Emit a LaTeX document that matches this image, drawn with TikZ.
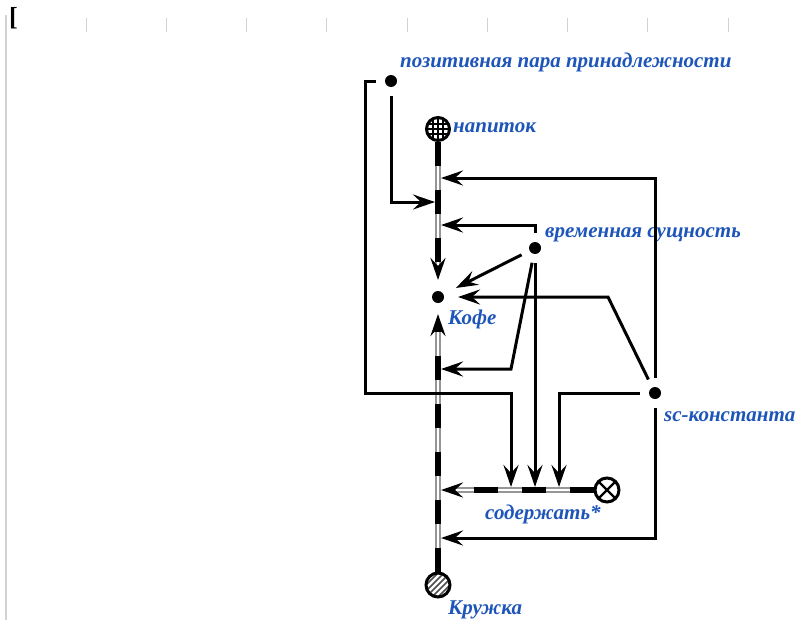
\documentclass[tikz,border=0pt]{standalone}
\usepackage{fontspec}
\setmainfont{Liberation Serif}
\usetikzlibrary{arrows.meta,calc}
\definecolor{scblue}{RGB}{30,85,185}
\definecolor{arcgray}{RGB}{150,150,150}
\definecolor{rulergray}{RGB}{210,210,210}
\tikzset{
  lbl/.style={anchor=base west, inner sep=0pt, text=scblue,
    font=\fontsize{21}{24}\selectfont\bfseries\itshape},
  dotnode/.style={circle, fill=black, inner sep=0pt, minimum size=12pt, outer sep=9pt},
  classnode/.style={circle, draw, line width=3pt, inner sep=0pt, minimum size=23pt,
    path picture={\foreach \d in {-5,0,5}{
      \draw[line width=1.1pt] ($(path picture bounding box.center)+(\d,-12)$) -- +(0,24);
      \draw[line width=1.1pt] ($(path picture bounding box.center)+(-12,\d)$) -- +(24,0);}}},
  hatchnode/.style={circle, draw, line width=3pt, inner sep=0pt, minimum size=24pt,
    path picture={\foreach \d in {-12,-6,0,6,12}
      \draw[line width=1.5pt, black!70] ($(path picture bounding box.center)+(\d-12,12)$) -- +(24,-24);}},
  relnode/.style={circle, draw, line width=3pt, inner sep=0pt, minimum size=24pt,
    path picture={
      \draw[line width=2.4pt] ($(path picture bounding box.center)+(-9,-9)$) -- +(18,18);
      \draw[line width=2.4pt] ($(path picture bounding box.center)+(-9,9)$) -- +(18,-18);}},
  tip/.style={-{Stealth[length=22pt,width=15pt,inset=8pt]}},
  arr/.style={line width=3pt, shorten >=3pt, tip},
  tempArc/.style={line width=6pt, draw=arcgray, shorten >=10pt,
    postaction={draw=white, line width=2pt},
    postaction={draw=black, line width=5.5pt, shorten >=0pt,
      dash pattern=on 24pt off 24pt, tip}}
}
\begin{document}
\begin{tikzpicture}[x=1pt,y=-1pt]
\useasboundingbox (0,0) rectangle (799,626);
% editor ruler
\draw[rulergray, line width=1.2pt] (6,15) -- (6,620);
\foreach \i in {0,...,8}
  \draw[rulergray, line width=1pt] (86+80.25*\i,18) -- ++(0,14);
\node[anchor=base west, inner sep=0pt, font=\fontsize{26}{26}\selectfont\bfseries] (brk) at (9,26) {[};

% nodes
\node[dotnode] (pair) at (391,81) {};
\node[classnode] (napitok) at (438,129) {};
\node[dotnode, outer sep=11pt] (kofe) at (438,297) {};
\node[dotnode] (vrem) at (535,248) {};
\node[dotnode] (sck) at (655,393) {};
\node[relnode] (rel) at (607,490) {};
\node[hatchnode] (kruzh) at (438,585) {};

% labels
\node[lbl] (pairlbl) at (400,67) {позитивная пара принадлежности};
\node[lbl] (napitoklbl) at (453,132) {напиток};
\node[lbl] (vremlbl) at (545,237) {временная сущность};
\node[lbl] (kofelbl) at (448,324) {Кофе};
\node[lbl] (scklbl) at (664,421) {sc-константа};
\node[lbl] (rellbl) at (485,519) {содержать*};
\node[lbl] (kruzhlbl) at (448,614) {Кружка};

% points on the arcs
\coordinate (a1) at (438,178);
\coordinate (a2) at (438,202);
\coordinate (a3) at (438,225);
\coordinate (b1) at (438,369);
\coordinate (b2) at (441,490);
\coordinate (b3) at (438,538);
\coordinate (c1) at (511,490);
\coordinate (c2) at (535,490);
\coordinate (c3) at (559,490);

% arcs
\draw[tempArc] (napitok) -- (kofe);
\draw[tempArc] (kruzh) -- (kofe);
\draw[tempArc] (rel) -- (b2);

% access arcs
\draw[arr] (pair) |- (a2);
\draw[arr] (pair) -- (365,81) |- (511,393) -- (c1);
\draw[arr] (vrem) |- (a3);
\draw[arr] (vrem) -- (kofe);
\draw[arr] (vrem) -- (511,369) -- (b1);
\draw[arr] (vrem) -- (c2);
\draw[arr] (sck) |- (a1);
\draw[arr] (sck) -- (608,297) -- (kofe);
\draw[arr] (sck) -| (c3);
\draw[arr] (sck) |- (b3);
\end{tikzpicture}
\end{document}
